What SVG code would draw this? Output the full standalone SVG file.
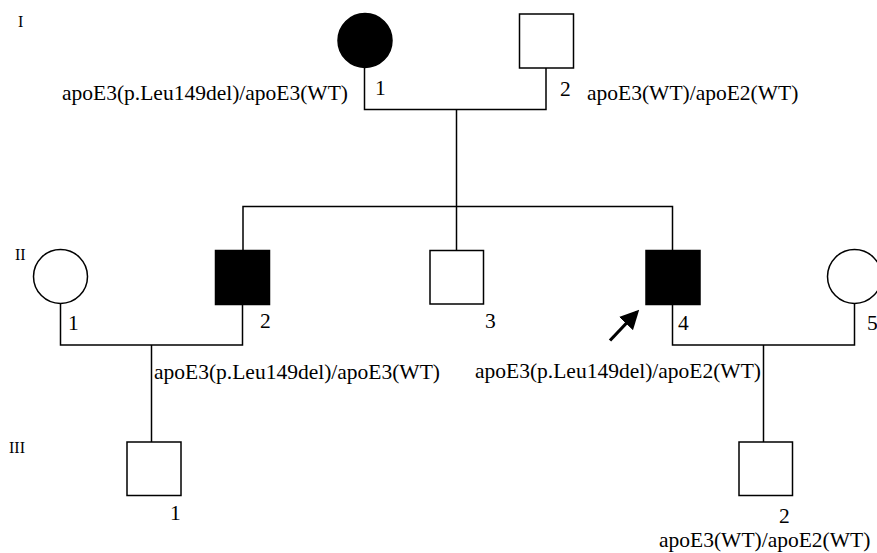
<svg xmlns="http://www.w3.org/2000/svg" width="877" height="553" viewBox="0 0 877 553">
<defs>
<style>
text{font-family:"Liberation Serif","Times New Roman",serif;font-size:21.5px;fill:#000}
.gen{font-size:16px}
.sym{stroke:#000;stroke-width:1.5;fill:#fff}
.aff{fill:#000}
.ln{stroke:#000;stroke-width:1.5;fill:none}
</style>
<marker id="ah" markerWidth="6" markerHeight="6" refX="5" refY="3" orient="auto" markerUnits="strokeWidth">
<path d="M0,0 L6,3 L0,6 Z" fill="#000"/>
</marker>
</defs>
<rect width="877" height="553" fill="#fff"/>
<g id="connectors">
<polyline class="ln" points="364.5,68 364.5,109.5 546,109.5 546,68"/>
<line class="ln" x1="456.5" y1="109.5" x2="456.5" y2="250.5"/>
<polyline class="ln" points="243,250 243,206.5 672.5,206.5 672.5,250"/>
<polyline class="ln" points="60.5,303.5 60.5,345 242.5,345 242.5,304"/>
<line class="ln" x1="151.5" y1="345" x2="151.5" y2="442"/>
<polyline class="ln" points="672.5,304 672.5,345 854.5,345 854.5,303.5"/>
<line class="ln" x1="763.5" y1="345" x2="763.5" y2="442"/>
<line x1="610" y1="340.5" x2="637" y2="312" stroke="#000" stroke-width="3.2" marker-end="url(#ah)"/>
</g>
<text class="gen" x="18" y="27">I</text>
<text class="gen" x="15" y="260">II</text>
<text class="gen" x="9" y="453">III</text>
<g id="I-1">
<circle class="sym aff" cx="365" cy="40.5" r="27"/>
<text x="375" y="95">1</text>
<text x="62" y="100">apoE3(p.Leu149del)/apoE3(WT)</text>
</g>
<g id="I-2">
<rect class="sym" x="519.5" y="14" width="54" height="54"/>
<text x="560" y="96">2</text>
<text x="587" y="100">apoE3(WT)/apoE2(WT)</text>
</g>
<g id="II-1">
<circle class="sym" cx="60.5" cy="276.5" r="27"/>
<text x="68" y="330">1</text>
</g>
<g id="II-2">
<rect class="sym aff" x="215.5" y="250.5" width="54" height="54"/>
<text x="260" y="328">2</text>
<text x="154" y="379">apoE3(p.Leu149del)/apoE3(WT)</text>
</g>
<g id="II-3">
<rect class="sym" x="430" y="250.5" width="53.5" height="53.5"/>
<text x="485" y="328">3</text>
</g>
<g id="II-4">
<rect class="sym aff" x="646" y="250.5" width="54" height="54"/>
<text x="678" y="330">4</text>
<text x="475" y="378">apoE3(p.Leu149del)/apoE2(WT)</text>
</g>
<g id="II-5">
<circle class="sym" cx="854.5" cy="276.5" r="27"/>
<text x="867" y="330">5</text>
</g>
<g id="III-1">
<rect class="sym" x="127" y="442" width="54" height="53.5"/>
<text x="170" y="520">1</text>
</g>
<g id="III-2">
<rect class="sym" x="739" y="442" width="53.5" height="53.5"/>
<text x="779" y="523">2</text>
<text x="659" y="547">apoE3(WT)/apoE2(WT)</text>
</g>
</svg>
